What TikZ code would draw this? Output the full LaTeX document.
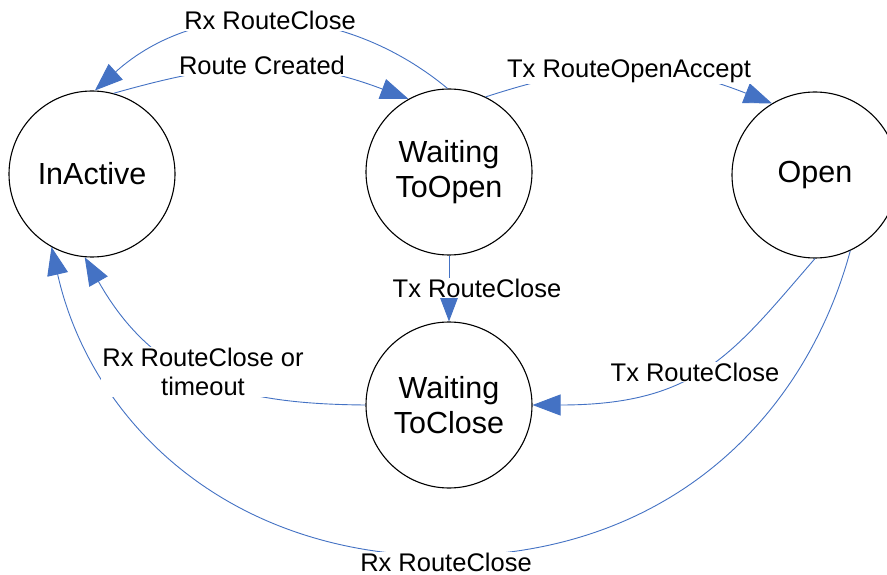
\documentclass[tikz,border=0pt]{standalone}
\usepackage{fontspec}
\setmainfont{Liberation Sans}
\usetikzlibrary{arrows.meta}
\definecolor{edgeblue}{RGB}{68,114,196}
\begin{document}
\begin{tikzpicture}[x=1pt,y=-1pt,
  state/.style={circle,draw=black,line width=1.1pt,minimum size=166pt,inner sep=0pt,align=center,font=\fontsize{30.5}{35.5}\selectfont},
  trans/.style={draw=edgeblue,line width=0.9pt,-{Triangle[length=28pt,width=21pt]},fill=none},
  lbl/.style={fill=white,inner sep=1pt,anchor=base,font=\fontsize{25.5}{29}\selectfont,align=center}]
\useasboundingbox (0,0) rectangle (887,575);
\fill[white] (0,0) rectangle (887,575);
\node[state] (ina) at (92,174) {InActive};
\node[state] (wto) at (449,172) {Waiting\\ToOpen};
\node[state] (open) at (815,175) {Open};
\node[state] (wtc) at (449,405) {Waiting\\ToClose};
% edges
\draw[trans] (wto.91) .. controls (342,1) and (199,-3) .. (ina.88);
\draw[trans] (ina.75) .. controls (231,60) and (295,56) .. (wto.119);
\draw[trans] (wto.64) .. controls (599,60) and (661,60) .. (open.121);
\draw[trans] (wto) -- (wtc);
\draw[trans] (open.-90) .. controls (733,353) and (698,405) .. (wtc.0);
\draw[trans] (wtc.180) .. controls (240,404) and (156,383) .. (ina.-95);
\draw[trans] (open.-65) .. controls (805,418) and (668,556) .. (446,556) .. controls (224,556) and (90,418) .. (ina.-119);
% labels
\node[lbl] (l1) at (270,30) {Rx RouteClose};
\node[lbl] (l2) at (262,75) {Route Created};
\node[lbl] (l3) at (629,78) {Tx RouteOpenAccept};
\node[lbl] (l4) at (477,297) {Tx RouteClose};
\node[lbl] (l5) at (695,381) {Tx RouteClose};
\node[lbl,anchor=center] (l6) at (203,372) {Rx RouteClose or\\timeout};
\node[lbl] (l7) at (446,571) {Rx RouteClose};
\end{tikzpicture}
\end{document}
